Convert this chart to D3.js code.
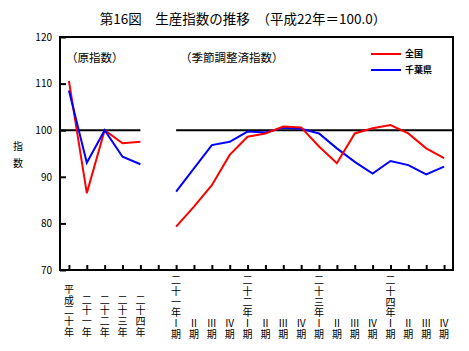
<!DOCTYPE html>
<html>
<head>
<meta charset="utf-8">
<script src="https://cdn.jsdelivr.net/npm/d3@7"></script>
<style>
  body{ margin:0; background:#fff; }
  text{ font-family:"Noto Sans CJK JP", sans-serif; fill:#000; }
  .vert{ writing-mode:vertical-rl; text-orientation:upright; }
</style>
</head>
<body>
<svg id="chart" width="469" height="351"></svg>
<script>
/*
    生産指数の推移
    annual raw index (H20-H24) + quarterly seasonally adjusted index
*/

// annual (原指数)
const annualLabels = ["平成二十年", "二十一年", "二十二年", "二十三年", "二十四年"];
const annualNational = [110.6, 86.5, 100.0, 97.2, 97.5];
const annualChiba = [108.5, 93.0, 100.0, 94.3, 92.7];

// quarterly (季節調整済指数)
const quarterLabels = [
    "二十一年Ⅰ期", "Ⅱ期", "Ⅲ期", "Ⅳ期",
    "二十二年Ⅰ期", "Ⅱ期", "Ⅲ期", "Ⅳ期",
    "二十三年Ⅰ期", "Ⅱ期", "Ⅲ期", "Ⅳ期",
    "二十四年Ⅰ期", "Ⅱ期", "Ⅲ期", "Ⅳ期"
];
const quarterNational = [79.3, 83.6, 88.2, 94.7, 98.6, 99.3, 100.8, 100.6, 96.5, 92.9, 99.3, 100.4, 101.1, 99.3, 96.1, 94.0];
const quarterChiba = [86.8, 91.8, 96.8, 97.5, 99.7, 99.5, 100.5, 100.3, 99.3, 96.1, 93.2, 90.7, 93.4, 92.5, 90.5, 92.2];

const yTicks = [70, 80, 90, 100, 110, 120];
const seriesNames = ["全国", "千葉県"];
const seriesColors = ["#ff0000", "#0000ff"];

const svg = d3.select("#chart");
const plotL = 60, plotR = 453, plotT = 37, plotB = 270;

// 5 annual slots, 1 gap, 16 quarters
const nAnnual = annualLabels.length;
const gapSlots = 1;
const slots = d3.range(nAnnual + gapSlots + quarterLabels.length);
const xScale = d3.scalePoint().domain(slots).range([plotL, plotR]).padding(0.5);
const yScale = d3.scaleLinear().domain([70, 120]).range([plotB, plotT]);

const qIndex = i => nAnnual + gapSlots + i;

// title
svg.append("text")
    .attr("x", 243).attr("y", 24)
    .attr("text-anchor", "middle")
    .style("font-size", "13.5px")
    .text("第16図　生産指数の推移　（平成22年＝100.0）");

// y axis
svg.append("g")
    .attr("transform", `translate(${plotL},0)`)
    .call(d3.axisLeft(yScale).tickValues(yTicks).tickSize(-6).tickPadding(8).tickFormat(d3.format("d")))
    .call(g => g.select(".domain").remove())
    .call(g => g.selectAll("line").attr("stroke", "#000").attr("stroke-width", 2))
    .call(g => g.selectAll("text").style("font-size", "10px").style("font-family", "'Noto Sans CJK JP', sans-serif"));

// y axis title, stacked vertically
svg.append("text")
    .attr("class", "vert")
    .attr("x", 18).attr("y", 141)
    .style("font-size", "10px")
    .style("letter-spacing", "7px")
    .text("指数");

// x ticks (inward)
svg.append("g")
    .attr("transform", `translate(0,${plotB})`)
    .call(d3.axisBottom(xScale).tickSize(-5).tickFormat(""))
    .call(g => g.select(".domain").remove())
    .call(g => g.selectAll("line").attr("stroke", "#000").attr("stroke-width", 2));

// 100 reference line, split in two pieces
svg.append("line")
    .attr("x1", plotL).attr("x2", xScale(nAnnual - 1))
    .attr("y1", yScale(100)).attr("y2", yScale(100))
    .attr("stroke", "#000").attr("stroke-width", 2);
svg.append("line")
    .attr("x1", xScale(qIndex(0))).attr("x2", plotR)
    .attr("y1", yScale(100)).attr("y2", yScale(100))
    .attr("stroke", "#000").attr("stroke-width", 2);

// lines
const line = d3.line().x(d => xScale(d[0])).y(d => yScale(d[1]));
const paths = [
    { c: 0, pts: annualNational.map((v, i) => [i, v]) },
    { c: 1, pts: annualChiba.map((v, i) => [i, v]) },
    { c: 1, pts: quarterChiba.map((v, i) => [qIndex(i), v]) },
    { c: 0, pts: quarterNational.map((v, i) => [qIndex(i), v]) }
];
svg.selectAll(".series").data(paths).enter().append("path")
    .attr("class", "series")
    .attr("d", d => line(d.pts))
    .attr("fill", "none")
    .attr("stroke", d => seriesColors[d.c])
    .attr("stroke-width", 2);

// frame
svg.append("rect")
    .attr("x", plotL).attr("y", plotT)
    .attr("width", plotR - plotL).attr("height", plotB - plotT)
    .attr("fill", "none").attr("stroke", "#000").attr("stroke-width", 2);

// panel notes
svg.append("text").attr("x", 66).attr("y", 62).style("font-size", "11.5px").text("（原指数）");
svg.append("text").attr("x", 180).attr("y", 62).style("font-size", "11.5px").text("（季節調整済指数）");

// legend
const legend = svg.selectAll(".legend").data(seriesNames).enter().append("g")
    .attr("class", "legend")
    .attr("transform", (d, i) => `translate(371,${54 + i * 16})`);
legend.append("line").attr("x1", 0).attr("x2", 30)
    .attr("stroke", (d, i) => seriesColors[i]).attr("stroke-width", 2);
legend.append("text").attr("x", 34).attr("dy", "0.35em")
    .style("font-size", "9px").style("font-weight", "bold")
    .text(d => d);

// vertical x labels, bottom aligned (text-anchor end = bottom in vertical mode)
const xLabels = annualLabels.map((s, i) => ({ slot: i, text: s, end: 338 }))
    .concat(quarterLabels.map((s, i) => ({ slot: qIndex(i), text: s, end: 340 })));

svg.selectAll(".xlab").data(xLabels).enter().append("text")
    .attr("class", "xlab vert")
    .attr("x", d => xScale(d.slot))
    .attr("y", d => d.end)
    .attr("text-anchor", "end")
    .style("font-size", "10px")
    .style("letter-spacing", "0.8px")
    .text(d => d.text);
</script>
</body>
</html>
